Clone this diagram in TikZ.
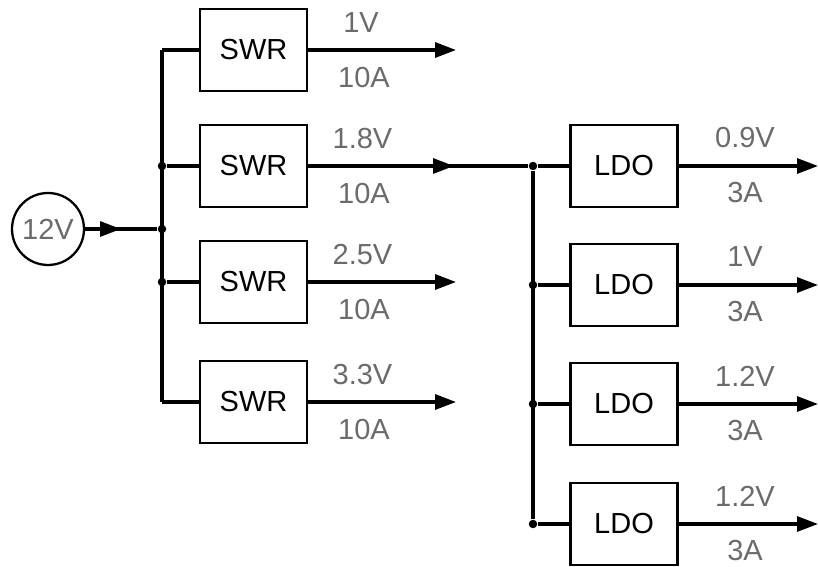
\documentclass[tikz,border=0pt]{standalone}
\usepackage{fontspec}
\setmainfont{Liberation Sans}
\usetikzlibrary{arrows.meta}
\definecolor{lblgray}{rgb}{0.42,0.42,0.42}

\begin{document}
\begin{tikzpicture}[
  >={Triangle[length=4.2mm, width=3mm]},
  every node/.style={font=\fontsize{16.5}{18}\selectfont},
  conv/.style={rectangle, draw=black, line width=1.7pt, minimum width=21.4mm, minimum height=16.4mm, text=black},
  source/.style={circle, draw=black, line width=1.3pt, minimum size=14.4mm, inner sep=0pt, text=lblgray},
  dot/.style={circle, fill=black, minimum size=1.7mm, inner sep=0pt},
  lbl/.style={text=lblgray, inner sep=0pt},
  wire/.style={line width=1.8pt},
  edge/.style={->, line width=1.8pt},
]
\useasboundingbox (0,0) rectangle (16.36,11.34);

% ---- source and input bus ----
\node[source] (v12) at (0.96, 6.76) {12V};
\coordinate (t0) at (2.42, 6.76);
\node[dot] (j0) at (3.24, 6.76) {};
\coordinate (c1) at (3.24, 10.34);
\node[dot] (j2) at (3.24, 8.02) {};
\node[dot] (j3) at (3.24, 5.70) {};
\coordinate (c4) at (3.24, 3.30);

% ---- switching regulators ----
\node[conv] (sw1) at (5.07, 10.34) {SWR};
\node[conv] (sw2) at (5.07, 8.02) {SWR};
\node[conv] (sw3) at (5.07, 5.70) {SWR};
\node[conv] (sw4) at (5.07, 3.30) {SWR};

% ---- switching regulator outputs ----
\coordinate (o1) at (9.12, 10.34);
\coordinate (t2) at (9.08, 8.02);
\coordinate (o3) at (9.12, 5.70);
\coordinate (o4) at (9.12, 3.30);

\node[lbl] (u1) at (7.22, 10.88) {1V};
\node[lbl] (i1) at (7.28, 9.78) {10A};
\node[lbl] (u2) at (7.25, 8.56) {1.8V};
\node[lbl] (i2) at (7.28, 7.46) {10A};
\node[lbl] (u3) at (7.25, 6.24) {2.5V};
\node[lbl] (i3) at (7.28, 5.14) {10A};
\node[lbl] (u4) at (7.25, 3.84) {3.3V};
\node[lbl] (i4) at (7.28, 2.74) {10A};

% ---- LDO bus ----
\node[dot] (k1) at (10.66, 8.02) {};
\node[dot] (k2) at (10.66, 5.64) {};
\node[dot] (k3) at (10.66, 3.26) {};
\node[dot] (k4) at (10.66, 0.86) {};

% ---- linear regulators ----
\node[conv] (ld1) at (12.48, 8.02) {LDO};
\node[conv] (ld2) at (12.48, 5.64) {LDO};
\node[conv] (ld3) at (12.48, 3.26) {LDO};
\node[conv] (ld4) at (12.48, 0.86) {LDO};

\coordinate (p1) at (16.36, 8.02);
\coordinate (p2) at (16.36, 5.64);
\coordinate (p3) at (16.36, 3.26);
\coordinate (p4) at (16.36, 0.86);

\node[lbl] (w1) at (14.90, 8.58) {0.9V};
\node[lbl] (a1) at (14.90, 7.48) {3A};
\node[lbl] (w2) at (14.90, 6.20) {1V};
\node[lbl] (a2) at (14.90, 5.10) {3A};
\node[lbl] (w3) at (14.90, 3.82) {1.2V};
\node[lbl] (a3) at (14.90, 2.72) {3A};
\node[lbl] (w4) at (14.90, 1.42) {1.2V};
\node[lbl] (a4) at (14.90, 0.32) {3A};

% ---- wires ----
\draw[wire] (v12) -- (j0);
\draw[edge] (v12) -- (t0);
\draw[wire] (c1) -- (c4);
\draw[wire] (c1) -- (sw1);
\draw[wire] (j2) -- (sw2);
\draw[wire] (j3) -- (sw3);
\draw[wire] (c4) -- (sw4);
\draw[edge] (sw1) -- (o1);
\draw[wire] (sw2) -- (k1);
\draw[edge] (sw2) -- (t2);
\draw[edge] (sw3) -- (o3);
\draw[edge] (sw4) -- (o4);
\draw[wire] (k1) -- (k4);
\draw[wire] (k1) -- (ld1);
\draw[wire] (k2) -- (ld2);
\draw[wire] (k3) -- (ld3);
\draw[wire] (k4) -- (ld4);
\draw[edge] (ld1) -- (p1);
\draw[edge] (ld2) -- (p2);
\draw[edge] (ld3) -- (p3);
\draw[edge] (ld4) -- (p4);

\end{tikzpicture}
\end{document}
